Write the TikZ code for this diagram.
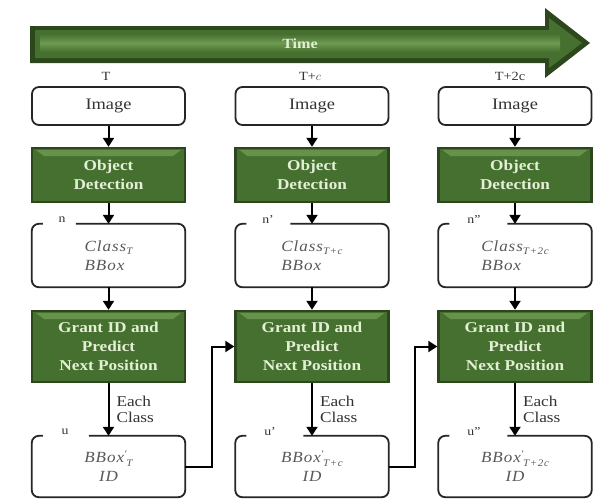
\documentclass[tikz,border=0pt]{standalone}
\usepackage{fontspec}
\setmainfont[FakeStretch=1.15]{Liberation Serif}
\newfontfamily\itfam[FakeStretch=1.1,LetterSpace=6]{Liberation Serif}
\usetikzlibrary{arrows.meta,calc}
\definecolor{gD}{HTML}{2C471C}
\definecolor{gA}{HTML}{46702F}
\definecolor{gL}{HTML}{6F9A52}
\definecolor{gT}{HTML}{E4F0D6}
\newcommand\subx[1]{\raisebox{-0.45ex}{\fontsize{10}{10}\selectfont #1}}
\newcommand\primx{\raisebox{0.75ex}{\fontsize{10}{10}\selectfont '}}
\begin{document}
\begin{tikzpicture}[x=1pt,y=-1pt,
  box/.style={draw=black!85, line width=1.8pt, rounded corners=7pt, fill=white, minimum width=153pt, inner sep=0pt, font=\fontsize{16}{18}\selectfont, text=black!80},
  gbox/.style={fill=gA, draw=gD, line width=2.4pt, minimum width=153pt, inner sep=0pt, text=gT, font=\bfseries\fontsize{15}{19}\selectfont, align=center,
    path picture={\fill[gL!80!gA] ($(path picture bounding box.north west)+(4pt,-2pt)$) -- ($(path picture bounding box.north east)+(-4pt,-2pt)$) -- ($(path picture bounding box.north east)+(-12pt,-8pt)$) -- ($(path picture bounding box.north west)+(12pt,-8pt)$) -- cycle;}},
  obox/.style={minimum width=153pt, inner sep=0pt, draw=none, text=black!65, font=\itfam\itshape\fontsize{15.5}{19}\selectfont},
  gapline/.style={draw=black!85, line width=1.8pt, rounded corners=7pt},
  arr/.style={line width=2pt, -{Triangle[length=9pt,width=11pt]}},
  lbl/.style={font=\fontsize{12}{12}\selectfont, text=black!80, inner sep=1pt},
  tlbl/.style={font=\fontsize{12.5}{12}\selectfont, text=black!80, inner sep=1pt},
  eclbl/.style={font=\fontsize{15}{16}\selectfont, text=black!80, align=left, inner sep=1pt},
]
\useasboundingbox (0,0) rectangle (600,499);
\fill[white] (0,0) rectangle (600,499);

% Time arrow
\fill[gD] (30,26) -- (545,26) -- (545,8) -- (590,43) -- (545,78) -- (545,63) -- (30,63) -- cycle;
\fill[gA] (35,30) -- (549,30) -- (549,18) -- (582,43) -- (549,68) -- (549,58) -- (35,58) -- cycle;
\shade[top color=gA, bottom color=gA, middle color=gL] (40,34) rectangle (560,52);
\node[text=gT, font=\bfseries\fontsize{14}{14}\selectfont] (time) at (300,44) {Time};

% time labels
\node[tlbl] (t1) at (106,76) {T};
\node[tlbl] (t2) at (310,76) {T+$c$};
\node[tlbl] (t3) at (510,76) {T+2c};

% Image boxes
\node[box, minimum height=38pt] (img1) at (108.5,106) {Image};
\node[box, minimum height=38pt] (img2) at (312,106) {Image};
\node[box, minimum height=38pt] (img3) at (515,106) {Image};

% Object detection
\node[gbox, minimum height=54pt] (od1) at (108.5,175) {Object\\Detection};
\node[gbox, minimum height=54pt] (od2) at (312,175) {Object\\Detection};
\node[gbox, minimum height=54pt] (od3) at (515,175) {Object\\Detection};

% Class boxes
\node[obox, minimum height=63pt, align=left] (cl1) at (108.5,255.5) {Class\subx{T}\\BBox};
\node[obox, minimum height=63pt, align=left] (cl2) at (312,255.5) {Class\subx{T+c}\\BBox};
\node[obox, minimum height=63pt, align=left] (cl3) at (515,255.5) {Class\subx{T+2c}\\BBox};
\draw[gapline] ($(cl1.north west)+(44,0)$) -- (cl1.north east) -- (cl1.south east) -- (cl1.south west) -- (cl1.north west) -- ($(cl1.north west)+(11,0)$);
\draw[gapline] ($(cl2.north west)+(55,0)$) -- (cl2.north east) -- (cl2.south east) -- (cl2.south west) -- (cl2.north west) -- ($(cl2.north west)+(11,0)$);
\draw[gapline] ($(cl3.north west)+(69,0)$) -- (cl3.north east) -- (cl3.south east) -- (cl3.south west) -- (cl3.north west) -- ($(cl3.north west)+(11,0)$);
\node[lbl] (n1) at (62,220) {n};
\node[lbl] (n2) at (268,220) {n'};
\node[lbl] (n3) at (474,220) {n''};

% Grant boxes
\node[gbox, minimum height=71pt] (gp1) at (108.5,346.5) {Grant ID and\\Predict\\Next Position};
\node[gbox, minimum height=71pt] (gp2) at (312,346.5) {Grant ID and\\Predict\\Next Position};
\node[gbox, minimum height=71pt] (gp3) at (515,346.5) {Grant ID and\\Predict\\Next Position};

% U boxes
\node[obox, minimum height=61pt, align=center] (u1) at (108.5,466.5) {BBox\primx\subx{T}\\ID};
\node[obox, minimum height=61pt, align=center] (u2) at (312,466.5) {BBox\primx\subx{T+c}\\ID};
\node[obox, minimum height=61pt, align=center] (u3) at (515,466.5) {BBox\primx\subx{T+2c}\\ID};
\draw[gapline] ($(u1.north west)+(57,0)$) -- (u1.north east) -- (u1.south east) -- (u1.south west) -- (u1.north west) -- ($(u1.north west)+(11,0)$);
\draw[gapline] ($(u2.north west)+(68,0)$) -- (u2.north east) -- (u2.south east) -- (u2.south west) -- (u2.north west) -- ($(u2.north west)+(11,0)$);
\draw[gapline] ($(u3.north west)+(69,0)$) -- (u3.north east) -- (u3.south east) -- (u3.south west) -- (u3.north west) -- ($(u3.north west)+(11,0)$);
\node[lbl] (m1) at (65,432) {u};
\node[lbl] (m2) at (270,432) {u'};
\node[lbl] (m3) at (474,432) {u''};

% vertical arrows
\draw[arr] (img1) -- (od1);
\draw[arr] (img2) -- (od2);
\draw[arr] (img3) -- (od3);
\draw[arr] (od1) -- (cl1);
\draw[arr] (od2) -- (cl2);
\draw[arr] (od3) -- (cl3);
\draw[arr] (cl1) -- (gp1);
\draw[arr] (cl2) -- (gp2);
\draw[arr] (cl3) -- (gp3);
\draw[arr] (gp1) -- node[eclbl, right, xshift=6pt] (ec1) {Each\\Class} (u1);
\draw[arr] (gp2) -- node[eclbl, right, xshift=6pt] (ec2) {Each\\Class} (u2);
\draw[arr] (gp3) -- node[eclbl, right, xshift=6pt] (ec3) {Each\\Class} (u3);

% cross connectors
\draw[arr] (u1.east) -- ++(27,0) |- (gp2.west);
\draw[arr] (u2.east) -- ++(26,0) |- (gp3.west);
\end{tikzpicture}
\end{document}
